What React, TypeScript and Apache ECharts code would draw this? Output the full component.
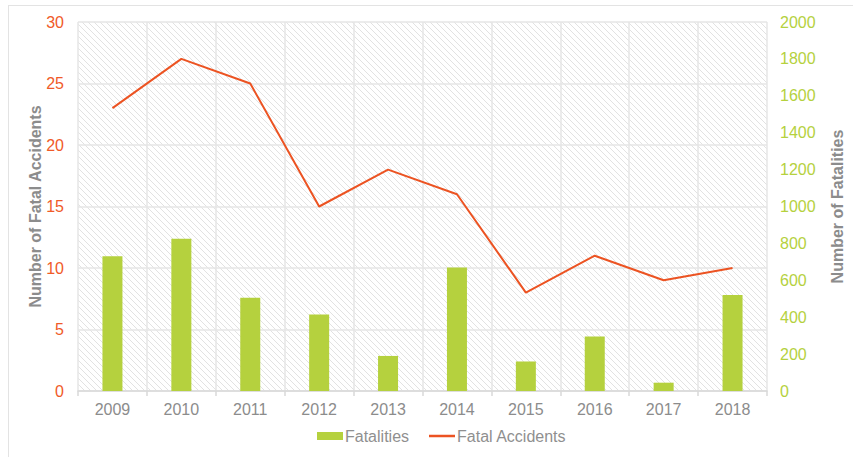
import React, { useEffect, useRef } from "react";
import * as echarts from "echarts";

const years = ["2009", "2010", "2011", "2012", "2013", "2014", "2015", "2016", "2017", "2018"];
const fatalities = [730, 825, 505, 415, 190, 670, 160, 295, 45, 520];
const fatalAccidents = [23, 27, 25, 15, 18, 16, 8, 11, 9, 10];

function makeHatch(): HTMLCanvasElement {
  const s = 6;
  const c = document.createElement("canvas");
  c.width = s;
  c.height = s;
  const ctx = c.getContext("2d")!;
  ctx.fillStyle = "#ffffff";
  ctx.fillRect(0, 0, s, s);
  ctx.strokeStyle = "#e2e2e2";
  ctx.lineWidth = 1;
  ctx.beginPath();
  ctx.moveTo(-1, -1);
  ctx.lineTo(s + 1, s + 1);
  ctx.moveTo(-1, s - 1);
  ctx.lineTo(1, s + 1);
  ctx.moveTo(s - 1, -1);
  ctx.lineTo(s + 1, 1);
  ctx.stroke();
  return c;
}

export default function App() {
  const ref = useRef<HTMLDivElement>(null);
  useEffect(() => {
    if (!ref.current) return;
    const chart = echarts.init(ref.current, undefined, { renderer: "svg" });
    const hatch = makeHatch();
    const font = "'Liberation Sans', Arial, sans-serif";
    chart.setOption({
      animation: false,
      textStyle: { fontFamily: font },
      graphic: [
        { type: "line", shape: { x1: 8, y1: 5.5, x2: 853, y2: 5.5 }, style: { stroke: "#e3e3e3", lineWidth: 1 } },
        { type: "line", shape: { x1: 8.5, y1: 5, x2: 8.5, y2: 457 }, style: { stroke: "#e3e3e3", lineWidth: 1 } },
      ],
      grid: {
        left: 78,
        right: 77,
        top: 22,
        bottom: 66,
        show: true,
        borderWidth: 0,
        backgroundColor: { image: hatch, repeat: "repeat" },
      },
      legend: {
        bottom: 8,
        left: 312,
        itemGap: 20,
        itemWidth: 26,
        itemHeight: 8,
        textStyle: { color: "#8f8f8f", fontSize: 16, fontFamily: font, padding: [0, 0, 0, -3] },
        data: [
          { name: "Fatalities", icon: "rect" },
          { name: "Fatal Accidents", icon: "path://M0,0 L26,0 L26,2.5 L0,2.5 Z", itemStyle: { color: "#ec5322" } },
        ],
      },
      xAxis: {
        type: "category",
        data: years,
        axisLine: { lineStyle: { color: "#d9d9d9", width: 1.5 } },
        axisTick: { show: true, length: 5, lineStyle: { color: "#d9d9d9", width: 1.5 } },
        axisLabel: { color: "#8c8c8c", fontSize: 16, margin: 10, fontFamily: font },
        splitLine: { show: true, lineStyle: { color: "#e6e6e6", width: 1.5 } },
      },
      yAxis: [
        {
          type: "value",
          min: 0,
          max: 30,
          interval: 5,
          name: "Number of Fatal Accidents",
          nameLocation: "middle",
          nameRotate: 90,
          nameGap: 35,
          nameMoveOverlap: false,
          nameTextStyle: { color: "#8c8c8c", fontSize: 16, fontWeight: "bold", fontFamily: font },
          axisLine: { show: false },
          axisTick: { show: false },
          axisLabel: { color: "#f05a28", fontSize: 16, margin: 14, fontFamily: font },
          splitLine: { show: true, lineStyle: { color: "#e6e6e6", width: 1.5 } },
        },
        {
          type: "value",
          min: 0,
          max: 2000,
          interval: 200,
          name: "Number of Fatalities",
          nameLocation: "middle",
          nameRotate: 90,
          nameGap: 62,
          nameMoveOverlap: false,
          nameTextStyle: { color: "#8c8c8c", fontSize: 16, fontWeight: "bold", fontFamily: font },
          axisLine: { show: false },
          axisTick: { show: false },
          axisLabel: {
            color: "#b5d13e",
            fontSize: 16,
            margin: 13,
            fontFamily: font,
            formatter: (v: number) => String(v),
          },
          splitLine: { show: false },
        },
      ],
      series: [
        {
          name: "Fatalities",
          type: "bar",
          yAxisIndex: 1,
          data: fatalities,
          barWidth: 20,
          itemStyle: { color: "#b5d13e" },
        },
        {
          name: "Fatal Accidents",
          type: "line",
          yAxisIndex: 0,
          data: fatalAccidents,
          showSymbol: false,
          symbol: "none",
          lineStyle: { color: "#ec5322", width: 2 },
          itemStyle: { color: "#ec5322" },
        },
      ],
    });
    return () => chart.dispose();
  }, []);
  return (
    <div
      ref={ref}
      style={{ position: "absolute", left: 0, top: 0, width: 853, height: 457, background: "#fff" }}
    />
  );
}
